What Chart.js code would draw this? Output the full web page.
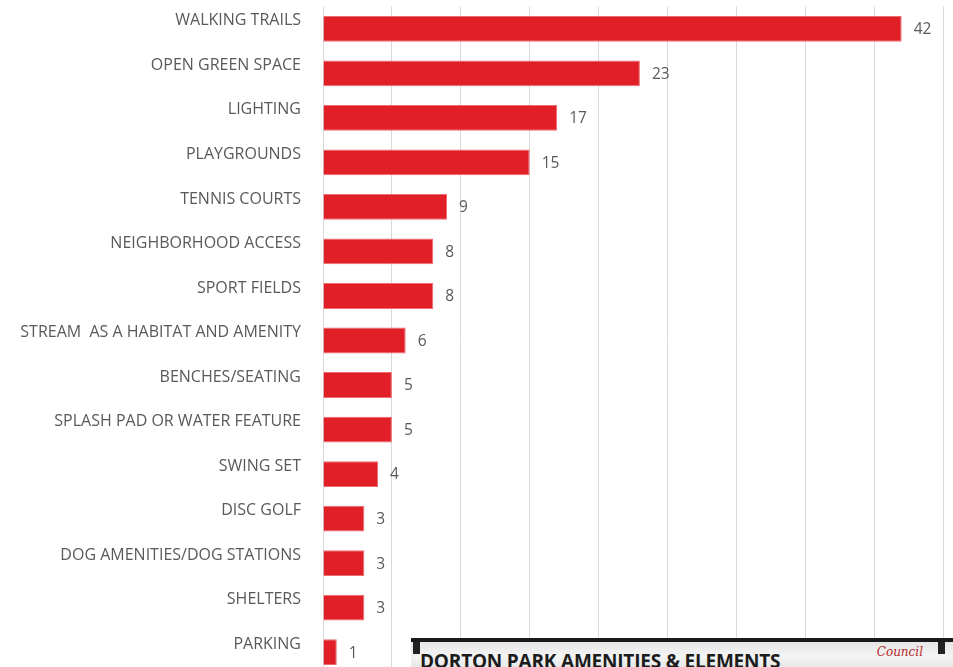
<!DOCTYPE html>
<html>
<head>
<meta charset="utf-8">
<script src="https://cdn.jsdelivr.net/npm/chart.js@4"></script>
<style>
  html, body { margin: 0; padding: 0; background: #fff; overflow: hidden; }
  #wrap { position: relative; width: 953px; height: 667px; overflow: hidden; }
  #chart { position: absolute; left: 0; top: -25px; }
  #photo {
    position: absolute; left: 411px; top: 638px; width: 542px; height: 40px;
    background: linear-gradient(180deg, #e6e6e6 0%, #f4f4f4 40%, #dcdcdc 100%);
    border-top: 4px solid #1a1a1a; box-sizing: border-box;
  }
  #photo .title {
    position: absolute; left: 9px; top: 6px;
    font: bold 19px "Open Sans", "DejaVu Sans", sans-serif; color: #1c1c1c; letter-spacing: -0.2px;
  }
  #photo .logo {
    position: absolute; right: 30px; top: 3px;
    font: italic 12px "DejaVu Serif", serif; color: #b8262c;
  }
  #photo .clip { position: absolute; top: 0; width: 7px; height: 12px; background: #222; }
</style>
</head>
<body>
<div id="wrap">
  <canvas id="chart" width="953" height="731"></canvas>
  <div id="photo">
    <div class="clip" style="left:2px"></div>
    <div class="clip" style="right:8px"></div>
    <div class="title">DORTON PARK AMENITIES &amp; ELEMENTS</div>
    <div class="logo">Council</div>
  </div>
</div>
<script>
// categories and counts
const categories = [
  'WALKING TRAILS', 'OPEN GREEN SPACE', 'LIGHTING', 'PLAYGROUNDS', 'TENNIS COURTS',
  'NEIGHBORHOOD ACCESS', 'SPORT FIELDS', 'STREAM  AS A HABITAT AND AMENITY', 'BENCHES/SEATING',
  'SPLASH PAD OR WATER FEATURE', 'SWING SET', 'DISC GOLF', 'DOG AMENITIES/DOG STATIONS',
  'SHELTERS', 'PARKING'
]
const counts = [42, 23, 17, 15, 9, 8, 8, 6, 5, 5, 4, 3, 3, 3, 1]
const xTicks = [0, 5, 10, 15, 20, 25, 30, 35, 40, 45]

// draw the numbers at the end of each bar
const valueLabels = {
  id: 'valueLabels',
  afterDatasetsDraw(chart) {
    const ctx = chart.ctx
    const meta = chart.getDatasetMeta(0)
    ctx.save()
    ctx.font = '15.5px "Open Sans", sans-serif'
    ctx.fillStyle = '#595959'
    ctx.textBaseline = 'middle'
    meta.data.forEach((bar, i) => {
      ctx.fillText(String(counts[i]), bar.x + 12, bar.y + 1)
    })
    ctx.restore()
  }
}

new Chart(document.getElementById('chart'), {
  type: 'bar',
  data: {
    labels: categories,
    datasets: [{
      data: counts,
      backgroundColor: '#E01F27',
      borderColor: '#EE6A6F',
      borderWidth: 1,
      barPercentage: 0.58,
      categoryPercentage: 1
    }]
  },
  options: {
    indexAxis: 'y',
    responsive: false,
    animation: false,
    layout: { padding: { top: 0, bottom: 0, right: 10, left: 0 } },
    plugins: { legend: { display: false }, tooltip: { enabled: false } },
    scales: {
      x: {
        min: 0, max: 45,
        afterBuildTicks: (s) => { s.ticks = xTicks.map(v => ({ value: v })) },
        ticks: { display: false },
        grid: { color: '#D9D9D9', lineWidth: 1, drawTicks: false },
        border: { display: false }
      },
      y: {
        afterFit: (s) => { s.width = 323 },
        ticks: {
          color: '#595959',
          font: { family: '"Open Sans", sans-serif', size: 16 },
          padding: 22,
          labelOffset: -8,
          autoSkip: false
        },
        grid: { display: false, drawTicks: false },
        border: { display: false }
      }
    }
  },
  plugins: [valueLabels]
})
</script>
</body>
</html>
